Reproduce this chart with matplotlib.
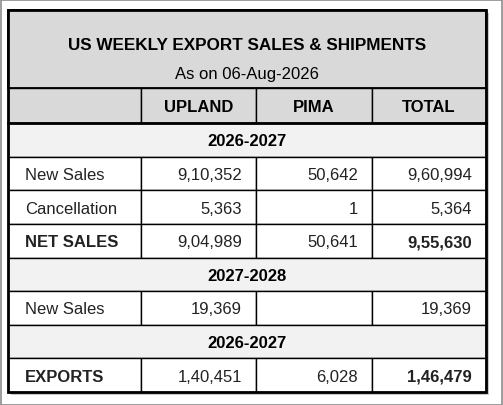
import matplotlib
matplotlib.use("Agg")
import matplotlib.pyplot as plt
from matplotlib.patches import Rectangle

title = "US WEEKLY EXPORT SALES & SHIPMENTS"
subtitle = "As on 06-Aug-2026"
columns = ["", "UPLAND", "PIMA", "TOTAL"]
# rows: (kind, label, values, bold_label, bold_total)
rows = [
    ("band", "2026-2027", None, True, False),
    ("data", "New Sales", ["9,10,352", "50,642", "9,60,994"], False, False),
    ("data", "Cancellation", ["5,363", "1", "5,364"], False, False),
    ("data", "NET SALES", ["9,04,989", "50,641", "9,55,630"], True, True),
    ("band", "2027-2028", None, True, False),
    ("data", "New Sales", ["19,369", "", "19,369"], False, False),
    ("band", "2026-2027", None, True, False),
    ("data", "EXPORTS", ["1,40,451", "6,028", "1,46,479"], True, True),
]

W, H = 503, 406
fig = plt.figure(figsize=(W/100, H/100), dpi=100)
ax = fig.add_axes([0, 0, 1, 1])
ax.set_xlim(0, W); ax.set_ylim(H, 0); ax.axis("off")
FONT = "Liberation Sans"
fs = 12

# outer frame and shadow
ax.add_patch(Rectangle((0.5, 0.5), W-1, H-1, fill=False, ec="#8c8c8c", lw=1.2))
x0, x1, y0, y1 = 8, 486, 11, 393
ax.add_patch(Rectangle((x0+3, y0+3), x1-x0, y1-y0, fc="#c8c8c8", ec="none"))
ax.add_patch(Rectangle((x0, y0), x1-x0, y1-y0, fc="white", ec="none"))

colx = [8, 141, 256, 372, 486]
title_bottom = 89
header_bottom = 124
rh = (y1 - header_bottom) / len(rows)

# title area
ax.add_patch(Rectangle((x0, y0), x1-x0, title_bottom-y0, fc="#d9d9d9", ec="black", lw=1.3))
ax.text((x0+x1)/2, 45, title, ha="center", va="center", fontsize=12.3, fontweight="bold", family=FONT)
ax.text((x0+x1)/2, 74, subtitle, ha="center", va="center", fontsize=12, family=FONT)

# header
for i in range(4):
    ax.add_patch(Rectangle((colx[i], title_bottom), colx[i+1]-colx[i], header_bottom-title_bottom,
                           fc="#d9d9d9", ec="black", lw=1.0))
    if columns[i]:
        ax.text((colx[i]+colx[i+1])/2, (title_bottom+header_bottom)/2+1, columns[i],
                ha="center", va="center", fontsize=fs, fontweight="bold", family=FONT)

for r, (kind, label, vals, bl, bt) in enumerate(rows):
    top = header_bottom + r*rh
    cy = top + rh/2 + 1
    if kind == "band":
        ax.add_patch(Rectangle((x0, top), x1-x0, rh, fc="#f2f2f2", ec="black", lw=1.0))
        ax.text((x0+x1)/2, cy, label, ha="center", va="center", fontsize=fs, fontweight="bold", family=FONT)
    else:
        for i in range(4):
            ax.add_patch(Rectangle((colx[i], top), colx[i+1]-colx[i], rh, fc="white", ec="black", lw=1.0))
        ax.text(colx[0]+17, cy, label, ha="left", va="center", fontsize=fs,
                fontweight="bold" if bl else "normal", family=FONT, color="#222222")
        for i, v in enumerate(vals):
            w = "bold" if (bt and i == 2) else "normal"
            ax.text(colx[i+2]-14, cy, v, ha="right", va="center", fontsize=fs, fontweight=w,
                    family=FONT, color="#222222")

ax.add_patch(Rectangle((x0, y0), x1-x0, y1-y0, fill=False, ec="black", lw=2.0))
ax.plot([x0, x1], [header_bottom, header_bottom], color="black", lw=2.0)
fig.savefig("out.png", dpi=100)
